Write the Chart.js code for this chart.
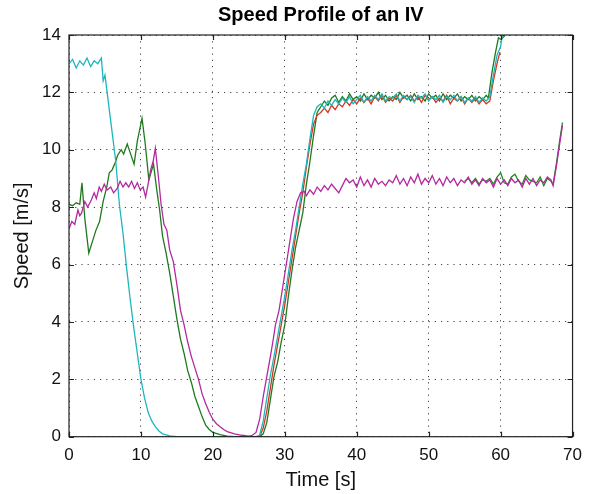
<!DOCTYPE html>
<html lang="en">
<head>
    <meta charset="UTF-8">
    <title>Speed Profile of an IV</title>
    <script src="https://cdn.jsdelivr.net/npm/chart.js"></script>
    <style>
        body { margin: 0; background: #fff; }
        .wrap { width: 590px; height: 494px; position: relative; }
    </style>
</head>
<body>
    <div class="wrap">
        <canvas id="myChart"></canvas>
    </div>
<script>
    // ticks
    const xTicks = [0, 10, 20, 30, 40, 50, 60, 70];
    const yTicks = [0, 2, 4, 6, 8, 10, 12, 14];

    // cyan trace
    const cyanT = [0, 0.5, 1, 1.5, 2, 2.5, 3, 3.5, 4, 4.5, 4.75, 5, 5.5, 6, 6.5, 7, 7.5, 8, 8.5, 9, 9.5, 10, 10.5, 11, 11.5, 12, 12.5, 13, 14, 15, 20, 26,
        26.5, 27, 27.5, 28, 28.5, 29, 29.5, 30, 30.5, 31, 31.5, 32, 32.5, 33, 33.5, 34, 34.5,
        35, 35.5, 36, 36.5, 37, 37.5, 38, 38.5, 39, 39.5, 40, 40.5, 41, 41.5, 42, 42.5, 43, 43.5, 44, 44.5, 45, 45.5, 46, 46.5, 47, 47.5,
        48, 48.5, 49, 49.5, 50, 50.5, 51, 51.5, 52, 52.5, 53, 53.5, 54, 54.5, 55, 55.5, 56, 56.5, 57, 57.5, 58, 58.5, 59, 59.5, 60, 60.3];
    const cyanV = [13.0, 13.15, 12.85, 13.1, 12.95, 13.2, 12.9, 13.1, 13.0, 13.2, 12.4, 12.6, 11.6, 10.6, 9.6, 8.1, 7.1, 5.9, 4.8, 3.8, 2.9, 2.0, 1.35, 0.85, 0.55, 0.35, 0.2, 0.1, 0.03, 0, 0, 0,
        0.05, 0.55, 1.35, 2.15, 2.8, 3.5, 4.2, 4.9, 5.7, 6.5, 7.2, 8.0, 8.8, 9.5, 10.4, 11.2, 11.5,
        11.6, 11.45, 11.7, 11.55, 11.75, 11.6, 11.8, 11.65, 11.85, 11.6, 11.75, 11.9, 11.65, 11.85, 11.7, 11.9, 11.75, 11.95, 11.7, 11.85, 11.8, 11.95, 11.7, 11.9, 11.75, 11.85,
        11.65, 11.9, 11.8, 11.95, 11.7, 11.85, 11.75, 11.9, 11.65, 11.85, 11.75, 11.9, 11.7, 11.85, 11.65, 11.8, 11.7, 11.85, 11.65, 11.8, 11.7, 11.85, 12.6, 13.3, 13.6, 14.1];

    // dark green trace
    const greenT = [0, 0.5, 1, 1.5, 1.8, 2.2, 2.75, 3.25, 3.75, 4.25, 4.75, 5.25, 5.6, 6, 6.5, 6.75, 7.25, 7.6, 8.1, 8.5, 9.05, 9.5, 10.15, 10.6, 11.1, 11.75,
        12.2, 12.6, 13, 13.5, 14, 14.5, 15, 15.5, 16, 16.5, 17, 17.5, 18, 18.5, 19, 19.5, 20, 21, 22, 23, 26.5,
        27, 27.5, 28, 28.5, 29, 29.5, 30, 30.5, 31, 31.5, 32, 32.5, 33, 33.5, 34, 34.5, 35,
        35.5, 36, 36.5, 37, 37.5, 38, 38.5, 39, 39.5, 40, 40.5, 41, 41.5, 42, 42.5, 43, 43.5, 44, 44.5, 45, 45.5, 46, 46.5, 47, 47.5,
        48, 48.5, 49, 49.5, 50, 50.5, 51, 51.5, 52, 52.5, 53, 53.5, 54, 54.5, 55, 55.5, 56, 56.5, 57, 57.5, 58, 58.3, 58.8, 59.3, 59.7, 60, 60.5, 60.8];
    const greenV = [8.1, 8.05, 8.15, 8.1, 8.85, 7.6, 6.4, 6.8, 7.2, 7.5, 8.2, 8.7, 9.2, 9.3, 9.6, 9.8, 10.0, 9.85, 10.2, 9.9, 9.5, 10.3, 11.1, 10.2, 8.95, 9.5,
        8.6, 7.9, 7.0, 6.4, 5.7, 4.9, 4.1, 3.4, 2.9, 2.3, 1.9, 1.4, 1.05, 0.7, 0.4, 0.25, 0.15, 0.07, 0.02, 0, 0,
        0.1, 0.5, 1.3, 2.1, 2.6, 3.3, 3.9, 4.9, 5.8, 6.6, 7.2, 7.8, 8.8, 9.6, 10.5, 11.3, 11.5,
        11.7, 11.55, 11.8, 11.9, 11.65, 11.85, 11.7, 11.95, 11.75, 11.85, 11.7, 11.95, 11.75, 11.9, 11.8, 12.0, 11.75, 11.9, 11.7, 11.85, 11.75, 12.0, 11.8, 11.9, 11.7,
        11.95, 11.75, 11.85, 11.7, 11.95, 11.8, 11.9, 11.7, 11.95, 11.75, 11.9, 11.8, 11.95, 11.7, 11.85, 11.75, 11.9, 11.7, 11.85, 11.75, 11.9, 11.8, 12.7, 13.4, 13.9, 13.85, 13.95, 14.2];

    // red trace
    const redT = [25, 26.5, 27, 27.5, 28, 28.5, 29, 29.5, 30, 30.5, 31, 31.5, 32, 32.5, 33, 33.5, 34, 34.5,
        35, 35.5, 36, 36.5, 37, 37.5, 38, 38.5, 39, 39.5, 40, 40.5, 41, 41.5, 42, 42.5, 43, 43.5, 44, 44.5, 45, 45.5, 46, 46.5, 47, 47.5,
        48, 48.5, 49, 49.5, 50, 50.5, 51, 51.5, 52, 52.5, 53, 53.5, 54, 54.5, 55, 55.5, 56, 56.5, 57, 57.5, 58, 58.5, 59, 59.5, 59.9];
    const redV = [0, 0, 0.3, 0.9, 1.7, 2.5, 3.2, 3.9, 4.6, 5.4, 6.2, 7.0, 7.8, 8.5, 9.4, 10.2, 10.9, 11.2,
        11.3, 11.45, 11.3, 11.55, 11.4, 11.6, 11.5, 11.7, 11.55, 11.75, 11.6, 11.8, 11.65, 11.8, 11.6, 11.85, 11.7, 11.9, 11.65, 11.8, 11.7, 11.9, 11.65, 11.85, 11.75, 11.9,
        11.7, 11.85, 11.65, 11.9, 11.75, 11.85, 11.65, 11.8, 11.7, 11.9, 11.6, 11.8, 11.7, 11.85, 11.6, 11.8, 11.65, 11.8, 11.6, 11.75, 11.6, 11.7, 12.4, 13.0, 13.4];

    // magenta trace
    const magT = [0, 0.4, 0.8, 1.24, 1.5, 1.75, 2.2, 2.6, 3.1, 3.5, 3.8, 4.2, 4.5, 4.9, 5.3, 5.8, 6.2, 6.7, 7.1, 7.5, 7.9, 8.3, 8.7, 9.1, 9.5, 9.9, 10.3, 10.65,
        11.0, 11.35, 11.7, 12.0, 12.45, 12.8, 13.2, 13.6, 14, 14.5, 15, 15.5, 16, 16.5, 17, 17.5, 18, 18.5, 19, 19.5, 20, 20.5, 21, 21.5, 22, 23, 24, 25,
        25.5, 26, 26.5, 27, 27.5, 28, 28.4, 28.7, 29.2, 29.7, 30.2, 30.7, 31.2, 31.7, 32.2, 32.7,
        33, 33.5, 34, 34.5, 35, 35.5, 36, 36.5, 37, 37.5, 38, 38.5, 39, 39.5, 40, 40.5, 41, 41.5, 42, 42.5, 43, 43.5, 44, 44.5, 45, 45.5, 46, 46.5, 47, 47.5,
        48, 48.5, 49, 49.5, 50, 50.5, 51, 51.5, 52, 52.5, 53, 53.5, 54, 54.5, 55, 55.5, 56, 56.5, 57, 57.5, 58, 58.5, 59, 59.5, 60, 60.5,
        61, 61.5, 62, 62.5, 63, 63.5, 64, 64.5, 65, 65.5, 66, 66.5, 67, 67.3, 67.8, 68.2, 68.6];
    const magV = [7.25, 7.5, 7.4, 7.9, 7.7, 7.8, 8.2, 8.0, 8.25, 8.5, 8.3, 8.7, 8.55, 8.8, 8.6, 8.7, 8.5, 8.65, 8.9, 8.7, 8.85, 8.7, 8.9, 8.65, 8.85, 8.6, 8.7, 8.35,
        8.8, 9.3, 9.6, 10.05, 9.0, 8.1, 7.4, 7.2, 6.5, 6.1, 5.3, 4.4, 3.9, 3.3, 2.8, 2.4, 2.0, 1.5, 1.15, 0.85, 0.6, 0.45, 0.35, 0.25, 0.18, 0.1, 0.05, 0.02,
        0.05, 0.15, 0.6, 1.4, 2.1, 2.8, 3.4, 3.9, 4.4, 5.2, 6.0, 6.8, 7.6, 8.2, 8.5, 8.55,
        8.4, 8.6, 8.45, 8.7, 8.55, 8.75, 8.6, 8.8, 8.65, 8.5, 8.75, 9.0, 8.85, 8.95, 8.7, 9.05, 8.75, 8.95, 8.7, 9.0, 8.8, 8.9, 8.75, 8.95, 8.85, 9.1, 8.8, 9.0, 8.75, 9.05,
        8.85, 9.15, 8.8, 9.0, 8.85, 9.1, 8.8, 9.0, 8.75, 9.05, 8.85, 9.0, 8.75, 8.95, 8.85, 9.05, 8.8, 8.95, 8.75, 9.0, 8.85, 8.95, 8.7, 9.0, 8.8, 8.95,
        8.75, 9.0, 8.85, 8.95, 8.7, 9.0, 8.8, 9.0, 8.75, 8.95, 8.85, 9.05, 8.95, 8.75, 9.5, 10.2, 10.85];

    // second green trace (under magenta)
    const green2T = [55, 55.5, 56, 56.5, 57, 57.5, 58, 58.5, 59, 59.5, 60, 60.5, 61, 61.5, 62, 62.5, 63, 63.5, 64, 64.5, 65, 65.5, 66, 66.5, 67, 67.3, 67.8, 68.2, 68.6];
    const green2V = [8.9, 9.0, 8.85, 9.0, 8.8, 8.95, 8.9, 9.0, 8.8, 9.05, 9.2, 8.85, 8.8, 9.05, 9.15, 8.9, 8.8, 9.1, 8.95, 8.9, 8.85, 9.05, 8.75, 9.0, 8.9, 8.8, 9.6, 10.3, 10.95];

    function punti(t, v) {
        return t.map((x, i) => ({ x: x, y: v[i] }));
    }

    function serie(t, v, cor) {
        return {
            data: punti(t, v),
            borderColor: cor,
            borderWidth: 1.3,
            pointRadius: 0,
            tension: 0,
            fill: false
        };
    }

    const data = {
        datasets: [
            serie(magT, magV, 'rgb(180, 40, 160)'),
            serie(cyanT, cyanV, 'rgb(30, 182, 190)'),
            serie(redT, redV, 'rgb(212, 52, 32)'),
            serie(greenT, greenV, 'rgb(30, 122, 30)'),
            serie(green2T, green2V, 'rgb(30, 140, 30)')
        ]
    };

    // box around the plot with inward ticks, like the original
    const moldura = {
        id: 'moldura',
        afterDatasetsDraw(chart) {
            const ctx = chart.ctx;
            const a = chart.chartArea;
            const sx = chart.scales.x;
            const sy = chart.scales.y;
            ctx.save();
            ctx.strokeStyle = '#222';
            ctx.lineWidth = 1.2;
            ctx.strokeRect(a.left, a.top, a.right - a.left, a.bottom - a.top);
            ctx.beginPath();
            xTicks.forEach(v => {
                const px = Math.round(sx.getPixelForValue(v)) + 0.5;
                ctx.moveTo(px, a.bottom); ctx.lineTo(px, a.bottom - 5);
                ctx.moveTo(px, a.top); ctx.lineTo(px, a.top + 5);
            });
            yTicks.forEach(v => {
                const py = Math.round(sy.getPixelForValue(v)) + 0.5;
                ctx.moveTo(a.left, py); ctx.lineTo(a.left + 5, py);
                ctx.moveTo(a.right, py); ctx.lineTo(a.right - 5, py);
            });
            ctx.stroke();
            ctx.restore();
        }
    };

    const fonte = "'Liberation Sans', Arial, Helvetica, sans-serif";

    const config = {
        type: 'line',
        data: data,
        options: {
            responsive: true,
            maintainAspectRatio: false,
            animation: false,
            devicePixelRatio: 1,
            layout: { padding: { left: 0, right: 13, top: 0, bottom: 0 } },
            plugins: {
                legend: { display: false },
                tooltip: { enabled: false },
                title: {
                    display: true,
                    fullSize: false,
                    text: 'Speed Profile of an IV',
                    color: '#000',
                    font: { family: fonte, size: 20, weight: 'bold', lineHeight: 1.2 },
                    padding: { top: 3, bottom: 8 }
                }
            },
            scales: {
                x: {
                    type: 'linear',
                    min: 0,
                    max: 70,
                    afterFit: function (s) { s.height = 57.3; },
                    ticks: {
                        stepSize: 10,
                        padding: 8,
                        color: '#111',
                        maxRotation: 0,
                        font: { family: fonte, size: 17 }
                    },
                    grid: { color: '#444', lineWidth: 1, drawTicks: false },
                    border: { display: false, dash: [1.2, 5] },
                    title: {
                        display: true,
                        text: 'Time [s]',
                        color: '#111',
                        font: { family: fonte, size: 20, lineHeight: 1.2 },
                        padding: { top: 0, bottom: 2 }
                    }
                },
                y: {
                    min: 0,
                    max: 14,
                    afterFit: function (s) { s.width = 69; },
                    ticks: {
                        stepSize: 2,
                        padding: 8,
                        color: '#111',
                        font: { family: fonte, size: 17 }
                    },
                    grid: { color: '#444', lineWidth: 1, drawTicks: false },
                    border: { display: false, dash: [1.2, 5] },
                    title: {
                        display: true,
                        text: 'Speed [m/s]',
                        color: '#111',
                        font: { family: fonte, size: 20, lineHeight: 1.2 },
                        padding: { top: 10, bottom: 0 }
                    }
                }
            }
        },
        plugins: [moldura]
    };

    const myChart = new Chart(document.getElementById('myChart'), config);
</script>
</body>
</html>
